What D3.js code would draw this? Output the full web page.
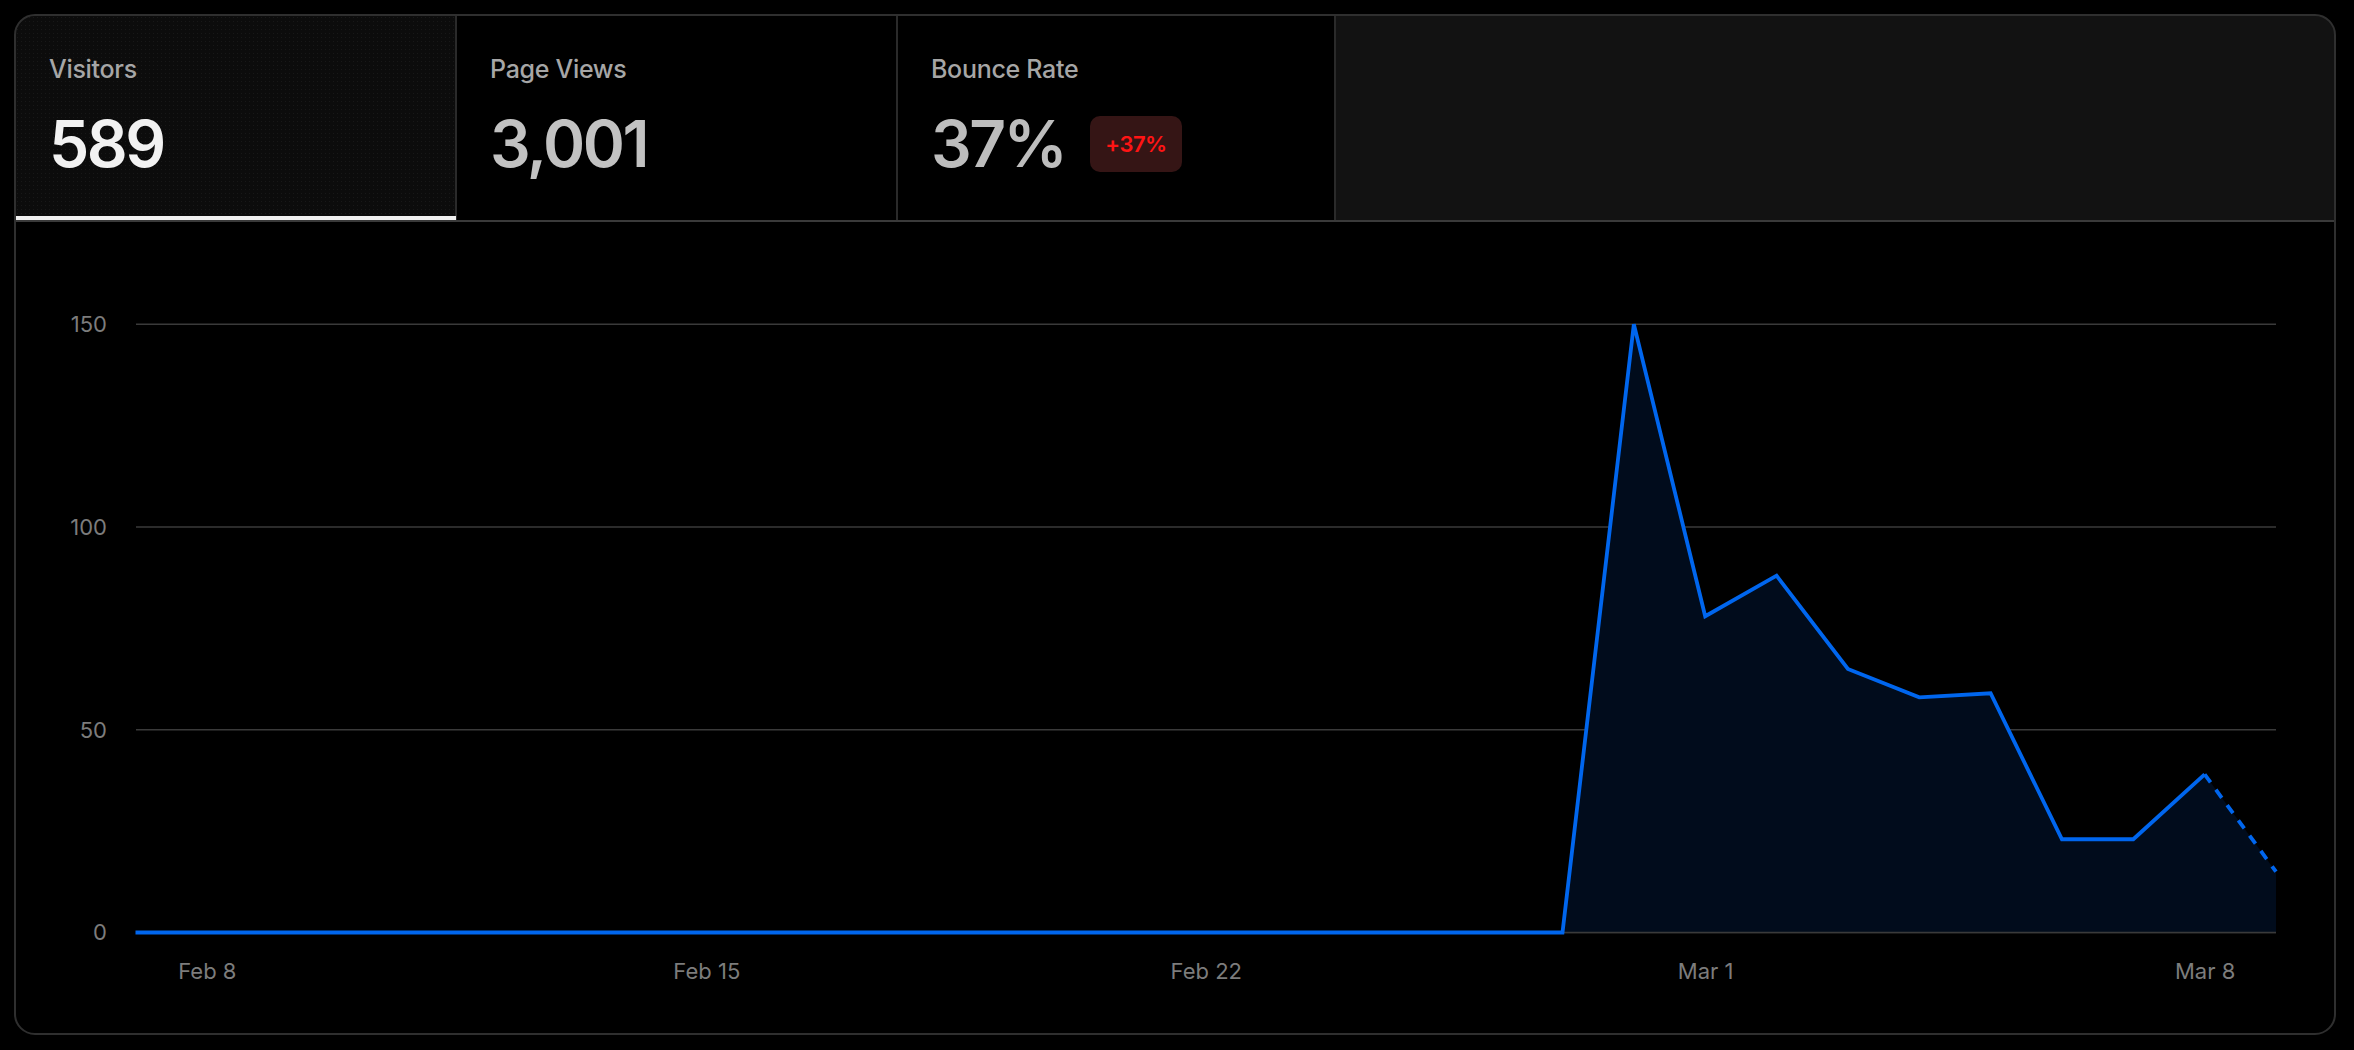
<!DOCTYPE html>
<html>
<head>
<meta charset="utf-8">
<script src="https://cdn.jsdelivr.net/npm/d3@7"></script>
<style>
  html, body { margin: 0; padding: 0; background: #000; }
  svg { display: block; }
</style>
</head>
<body>
<div id="chart"></div>
<script>
// ---- data ----
const dates = ["2023-02-07","2023-02-08","2023-02-09","2023-02-10","2023-02-11","2023-02-12","2023-02-13",
  "2023-02-14","2023-02-15","2023-02-16","2023-02-17","2023-02-18","2023-02-19","2023-02-20",
  "2023-02-21","2023-02-22","2023-02-23","2023-02-24","2023-02-25","2023-02-26","2023-02-27",
  "2023-02-28","2023-03-01","2023-03-02","2023-03-03","2023-03-04","2023-03-05","2023-03-06",
  "2023-03-07","2023-03-08","2023-03-09"];
const visitors = [0,0,0,0,0,0,0, 0,0,0,0,0,0,0, 0,0,0,0,0,0,0, 150,78,88,65,58,59,23, 23,39,15];
const yTicks = [0, 50, 100, 150];
const xTickDates = ["2023-02-08","2023-02-15","2023-02-22","2023-03-01","2023-03-08"];
const tabLabels = ["Visitors", "Page Views", "Bounce Rate"];
const tabValues = ["589", "3,001", "37%"];
const badgeText = "+37%";

// ---- drawing ----
const W = 2354, H = 1050;
const parse = d3.utcParse("%Y-%m-%d");
const data = dates.map((d, i) => ({ date: parse(d), value: visitors[i] }));

const svg = d3.select("#chart").append("svg").attr("width", W).attr("height", H);
const defs = svg.append("defs");

const card = { x: 15, y: 15, w: 2320, h: 1019, r: 20 };
defs.append("clipPath").attr("id", "cardClip")
  .append("rect").attr("x", card.x).attr("y", card.y).attr("width", card.w).attr("height", card.h).attr("rx", card.r);

const pat = defs.append("pattern").attr("id", "dots").attr("width", 4).attr("height", 4).attr("patternUnits", "userSpaceOnUse");
pat.append("rect").attr("width", 4).attr("height", 4).attr("fill", "#0c0c0c");
pat.append("rect").attr("x", 1).attr("y", 1).attr("width", 1).attr("height", 1).attr("fill", "#181818");

svg.append("rect").attr("x", card.x).attr("y", card.y).attr("width", card.w).attr("height", card.h)
  .attr("rx", card.r).attr("fill", "#000");

const tabsG = svg.append("g").attr("clip-path", "url(#cardClip)");
const tabTop = 15, tabBottom = 220;
const tabEdges = [15, 456, 897, 1335, 2335];
// active tab and empty panel backgrounds
tabsG.append("rect").attr("x", tabEdges[0]).attr("y", tabTop).attr("width", tabEdges[1] - tabEdges[0])
  .attr("height", tabBottom - tabTop).attr("fill", "url(#dots)");
tabsG.append("rect").attr("x", tabEdges[3]).attr("y", tabTop).attr("width", tabEdges[4] - tabEdges[3])
  .attr("height", tabBottom - tabTop).attr("fill", "#121212");
// dividers
[1, 2, 3].forEach(i => {
  tabsG.append("line").attr("x1", tabEdges[i]).attr("x2", tabEdges[i]).attr("y1", tabTop).attr("y2", tabBottom)
    .attr("stroke", "#2a2a2a").attr("stroke-width", 2);
});
tabsG.append("line").attr("x1", card.x).attr("x2", card.x + card.w).attr("y1", 221).attr("y2", 221)
  .attr("stroke", "#3a3a3a").attr("stroke-width", 2);
tabsG.append("rect").attr("x", 16).attr("y", 216).attr("width", 440).attr("height", 4).attr("fill", "#f0f0f0");

const FONT = "Inter, 'Liberation Sans', Arial, sans-serif";
const valueColors = ["#f2f2f2", "#c2c2c2", "#bdbdbd"];
tabLabels.forEach((lab, i) => {
  const x = tabEdges[i] + 34;
  svg.append("text").attr("x", x).attr("y", 78).text(lab)
    .attr("font-family", FONT).attr("font-size", 25).attr("font-weight", 500)
    .attr("fill", "#a6a6a6").attr("letter-spacing", "-0.3px");
  svg.append("text").attr("x", x).attr("y", 167).text(tabValues[i])
    .attr("font-family", FONT).attr("font-size", 64).attr("font-weight", 600)
    .attr("fill", valueColors[i]).attr("letter-spacing", "-2.5px");
});
// badge
svg.append("rect").attr("x", 1090).attr("y", 116).attr("width", 92).attr("height", 56).attr("rx", 10)
  .attr("fill", "#351515");
svg.append("text").attr("x", 1136).attr("y", 152).attr("text-anchor", "middle").text(badgeText)
  .attr("font-family", FONT).attr("font-size", 22).attr("font-weight", 600).attr("fill", "#ff1414")
  .attr("letter-spacing", "-0.5px");

// ---- chart ----
const x = d3.scaleUtc().domain(d3.extent(data, d => d.date)).range([135.5, 2276]);
const y = d3.scaleLinear().domain([0, 150]).range([932.5, 324.3]);

const grid = svg.append("g");
grid.selectAll("line").data(yTicks).join("line")
  .attr("x1", 136).attr("x2", 2276).attr("y1", d => y(d)).attr("y2", d => y(d))
  .attr("stroke", "#3a3a3a").attr("stroke-width", 1.5);

const yAxis = svg.append("g").attr("transform", "translate(107,0)")
  .call(d3.axisLeft(y).tickValues(yTicks).tickSize(0).tickPadding(0));
yAxis.select(".domain").remove();
yAxis.selectAll("text").attr("font-family", FONT).attr("font-size", 22).attr("fill", "#7c7c7c")
  .attr("dy", "0.34em");

const xAxis = svg.append("g").attr("transform", "translate(0,963)")
  .call(d3.axisBottom(x).tickValues(xTickDates.map(parse)).tickFormat(d3.utcFormat("%b %-d"))
    .tickSize(0).tickPadding(0));
xAxis.select(".domain").remove();
xAxis.selectAll("text").attr("font-family", FONT).attr("font-size", 22).attr("fill", "#7c7c7c")
  .attr("dy", "0.72em");

const area = d3.area().x(d => x(d.date)).y0(y(0)).y1(d => y(d.value));
svg.append("path").datum(data).attr("d", area).attr("fill", "#010c1c");

// baseline under the area
svg.append("line").attr("x1", 136).attr("x2", 2276).attr("y1", y(0)).attr("y2", y(0))
  .attr("stroke", "#3a3a3a").attr("stroke-width", 1.5);

const line = d3.line().x(d => x(d.date)).y(d => y(d.value));
const n = data.length;
svg.append("path").datum(data.slice(0, n - 1)).attr("d", line)
  .attr("fill", "none").attr("stroke", "#0066ee").attr("stroke-width", 3.8).attr("stroke-linejoin", "miter");
svg.append("path").datum(data.slice(n - 2)).attr("d", line)
  .attr("fill", "none").attr("stroke", "#0066ee").attr("stroke-width", 3.8).attr("stroke-dasharray", "10,9");

// card border on top
svg.append("rect").attr("x", card.x).attr("y", card.y).attr("width", card.w).attr("height", card.h)
  .attr("rx", card.r).attr("fill", "none").attr("stroke", "#2f2f2f").attr("stroke-width", 2);
</script>
</body>
</html>
